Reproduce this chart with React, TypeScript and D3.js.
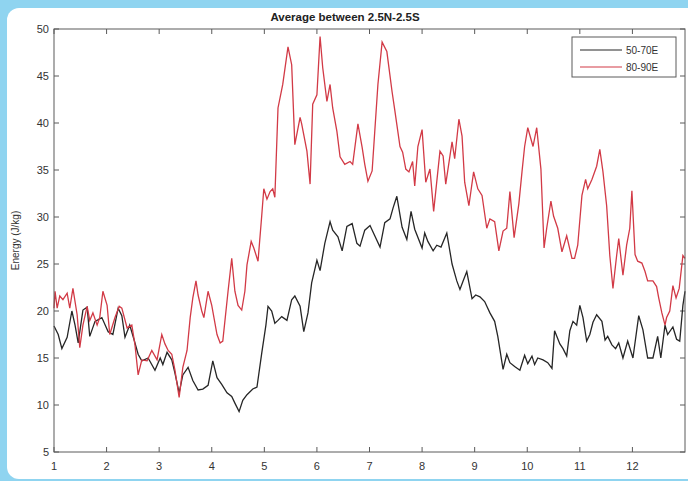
import React, { useEffect, useRef } from "react";
import * as d3 from "d3";

const title = "Average between 2.5N-2.5S";
const yLabel = "Energy (J/kg)";
const seriesNames = ["50-70E", "80-90E"];
const xTicks = [1, 2, 3, 4, 5, 6, 7, 8, 9, 10, 11, 12];
const yTicks = [5, 10, 15, 20, 25, 30, 35, 40, 45, 50];

// 50-70E (black): time in months, energy J/kg
const blackT = [1.00,1.08,1.15,1.25,1.34,1.40,1.46,1.55,1.63,1.68,1.78,1.91,2.03,2.12,2.22,2.29,2.35,2.44,2.52,2.60,2.67,2.79,2.92,3.02,3.07,3.15,3.24,3.30,3.38,3.45,3.55,3.64,3.74,3.83,3.93,4.02,4.10,4.19,4.29,4.38,4.44,4.52,4.59,4.67,4.78,4.86,4.95,5.03,5.07,5.14,5.20,5.26,5.33,5.43,5.52,5.58,5.68,5.75,5.83,5.90,6.00,6.06,6.15,6.25,6.30,6.40,6.48,6.57,6.67,6.76,6.82,6.91,7.01,7.10,7.20,7.29,7.39,7.45,7.52,7.62,7.71,7.79,7.86,8.00,8.05,8.11,8.21,8.28,8.36,8.47,8.57,8.66,8.72,8.78,8.85,8.95,9.02,9.10,9.19,9.29,9.38,9.44,9.54,9.61,9.67,9.76,9.86,9.95,10.01,10.09,10.14,10.20,10.30,10.39,10.47,10.52,10.62,10.68,10.75,10.81,10.87,10.94,11.00,11.06,11.13,11.19,11.25,11.32,11.42,11.48,11.53,11.61,11.68,11.74,11.82,11.91,12.01,12.12,12.20,12.29,12.39,12.48,12.54,12.62,12.67,12.77,12.84,12.90,12.96,13.00];
const blackV = [18.4,17.5,16.0,17.2,20.0,18.5,16.6,20.1,20.4,17.3,18.9,19.3,17.8,17.5,20.3,19.5,17.2,18.5,17.0,15.4,14.7,15.0,13.7,15.0,14.3,15.6,14.8,13.4,11.3,13.2,14.0,12.6,11.6,11.7,12.1,14.7,12.9,12.2,11.3,10.9,10.2,9.3,10.5,11.1,11.7,11.9,15.5,18.5,20.5,20.0,18.7,19.0,19.4,19.0,21.2,21.6,20.5,17.8,19.8,23.0,25.4,24.3,27.2,29.5,28.6,27.9,26.4,29.0,29.3,27.2,26.9,28.6,29.1,28.0,26.8,29.4,29.8,31.0,32.2,28.9,27.6,30.6,28.7,26.7,28.3,27.4,26.4,27.0,26.8,28.3,25.0,23.2,22.3,23.2,24.2,21.3,21.7,21.5,21.0,19.8,18.9,17.3,13.8,15.4,14.5,14.1,13.7,15.3,14.4,15.2,14.3,15.0,14.8,14.5,13.9,17.9,16.5,16.0,15.2,17.9,18.9,18.5,20.6,19.3,16.8,17.5,18.8,19.6,18.9,16.9,17.3,16.4,16.0,16.6,15.0,16.8,15.0,19.5,18.0,15.0,15.0,17.3,15.0,18.5,17.5,18.3,17.0,16.8,20.6,22.1];

// 80-90E (red)
const redT = [1.00,1.02,1.06,1.11,1.17,1.25,1.30,1.36,1.44,1.49,1.55,1.63,1.68,1.74,1.82,1.87,1.93,2.01,2.06,2.16,2.24,2.29,2.39,2.48,2.54,2.60,2.67,2.77,2.86,2.96,3.05,3.11,3.17,3.24,3.30,3.38,3.45,3.53,3.59,3.64,3.70,3.74,3.81,3.85,3.93,4.00,4.10,4.16,4.21,4.31,4.38,4.44,4.50,4.57,4.63,4.67,4.75,4.80,4.88,4.95,4.99,5.05,5.11,5.16,5.20,5.26,5.35,5.45,5.52,5.58,5.68,5.71,5.81,5.87,5.92,6.00,6.06,6.11,6.19,6.25,6.30,6.38,6.44,6.53,6.63,6.68,6.78,6.86,6.91,6.97,7.05,7.10,7.16,7.24,7.33,7.43,7.48,7.58,7.63,7.69,7.75,7.82,7.86,7.92,8.00,8.07,8.15,8.22,8.34,8.40,8.45,8.57,8.62,8.70,8.76,8.81,8.89,8.98,9.06,9.14,9.23,9.29,9.38,9.46,9.54,9.61,9.67,9.75,9.84,9.90,9.95,10.01,10.11,10.18,10.26,10.32,10.37,10.45,10.50,10.58,10.66,10.75,10.85,10.90,10.96,11.04,11.11,11.15,11.23,11.32,11.38,11.44,11.51,11.57,11.63,11.70,11.74,11.82,11.89,11.95,11.99,12.05,12.10,12.18,12.24,12.29,12.39,12.46,12.50,12.56,12.62,12.65,12.71,12.77,12.83,12.89,12.96,13.00];
const redV = [20.3,22.1,20.3,21.6,21.2,21.9,20.3,22.4,19.6,16.1,18.5,20.5,19.0,19.8,18.5,19.3,22.1,20.6,17.5,19.3,20.5,20.3,18.2,18.5,16.4,13.2,14.8,14.7,15.8,14.8,17.5,16.5,15.8,15.4,13.7,10.8,14.0,15.8,19.3,21.4,23.2,21.7,20.0,19.3,22.1,20.6,17.5,16.6,16.8,22.1,25.6,22.1,20.6,20.1,22.1,24.9,27.4,26.7,25.3,30.1,33.0,31.9,32.7,33.0,32.1,41.6,44.1,48.1,46.2,37.7,40.6,39.9,37.0,33.5,42.0,43.0,49.2,45.9,42.3,44.1,41.6,39.1,36.4,35.6,35.9,35.6,39.9,37.4,35.6,33.8,34.9,39.1,44.1,48.6,47.6,43.3,41.4,37.5,36.9,35.1,34.8,35.9,33.3,37.5,39.3,33.7,35.1,30.6,37.0,36.5,33.5,38.0,36.2,40.4,38.6,33.7,31.2,34.8,33.0,32.3,28.8,29.8,29.5,26.4,28.5,28.8,32.7,27.8,31.4,34.8,37.5,39.5,37.5,39.5,35.1,26.7,28.8,31.7,30.1,28.8,26.3,28.0,25.6,25.6,27.0,32.3,34.0,33.0,34.0,35.4,37.2,34.8,31.2,25.9,22.4,25.9,27.7,23.8,27.0,28.8,32.8,26.0,25.3,25.1,24.2,23.2,23.2,22.6,21.4,19.8,18.5,19.3,20.0,22.7,21.4,22.4,25.9,25.6];

const W = 688;
const H = 481;
const M = { left: 54, right: 685, top: 29, bottom: 452 };
const FONT = "'Liberation Sans', Arial, sans-serif";

export default function App() {
  const ref = useRef<SVGSVGElement | null>(null);

  useEffect(() => {
    const svg = d3.select(ref.current);
    svg.selectAll("*").remove();

    const x = d3.scaleLinear().domain([1, 13]).range([M.left, M.right]);
    const y = d3.scaleLinear().domain([5, 50]).range([M.bottom, M.top]);

    svg.append("rect").attr("width", W).attr("height", H).attr("fill", "#8fd4f0");
    svg.append("rect").attr("x", 7).attr("y", 8).attr("width", 700).attr("height", 471)
      .attr("rx", 12).attr("fill", "#ffffff");

    const axisColor = "#5a5a5a";

    // ticks (inside) on all four sides
    const g = svg.append("g");
    xTicks.forEach((t) => {
      g.append("line").attr("x1", x(t)).attr("x2", x(t)).attr("y1", M.bottom).attr("y2", M.bottom - 5).attr("stroke", axisColor);
      g.append("line").attr("x1", x(t)).attr("x2", x(t)).attr("y1", M.top).attr("y2", M.top + 5).attr("stroke", axisColor);
      g.append("text").attr("x", x(t)).attr("y", M.bottom + 18).attr("text-anchor", "middle")
        .attr("font-family", FONT).attr("font-size", 11).attr("fill", "#333").text(t);
    });
    yTicks.forEach((t) => {
      g.append("line").attr("x1", M.left).attr("x2", M.left + 5).attr("y1", y(t)).attr("y2", y(t)).attr("stroke", axisColor);
      g.append("line").attr("x1", M.right).attr("x2", M.right - 5).attr("y1", y(t)).attr("y2", y(t)).attr("stroke", axisColor);
      g.append("text").attr("x", M.left - 5).attr("y", y(t)).attr("dy", "0.35em").attr("text-anchor", "end")
        .attr("font-family", FONT).attr("font-size", 11).attr("fill", "#333").text(t);
    });

    const line = d3.line<[number, number]>().x((d) => x(d[0])).y((d) => y(d[1]));
    const blackData = blackT.map((t, i) => [t, blackV[i]] as [number, number]);
    const redData = redT.map((t, i) => [t, redV[i]] as [number, number]);

    svg.append("path").attr("d", line(blackData)).attr("fill", "none").attr("stroke", "#262626").attr("stroke-width", 1.3);
    svg.append("path").attr("d", line(redData)).attr("fill", "none").attr("stroke", "#d23a46").attr("stroke-width", 1.3);

    svg.append("rect").attr("x", M.left).attr("y", M.top).attr("width", M.right - M.left).attr("height", M.bottom - M.top)
      .attr("fill", "none").attr("stroke", axisColor).attr("stroke-width", 1);

    svg.append("text").attr("x", 345).attr("y", 21).attr("text-anchor", "middle")
      .attr("font-family", FONT).attr("font-size", 11.5).attr("font-weight", "bold").attr("fill", "#222").text(title);

    svg.append("text").attr("transform", `translate(19,${y(27.5)}) rotate(-90)`).attr("text-anchor", "middle")
      .attr("font-family", FONT).attr("font-size", 10).attr("fill", "#333").text(yLabel);

    // legend
    const lg = svg.append("g");
    lg.append("rect").attr("x", 572).attr("y", 37).attr("width", 104).attr("height", 40)
      .attr("fill", "#fff").attr("stroke", axisColor);
    const colors = ["#262626", "#d23a46"];
    seriesNames.forEach((n, i) => {
      const ly = 50 + i * 17;
      lg.append("line").attr("x1", 580).attr("x2", 622).attr("y1", ly).attr("y2", ly).attr("stroke", colors[i]).attr("stroke-width", 1.2);
      lg.append("text").attr("x", 626).attr("y", ly).attr("dy", "0.35em").attr("font-family", FONT)
        .attr("font-size", 10).attr("fill", "#333").text(n);
    });
  }, []);

  return (
    <svg ref={ref} width={W} height={H} style={{ position: "fixed", left: 0, top: 0, display: "block" }} />
  );
}
